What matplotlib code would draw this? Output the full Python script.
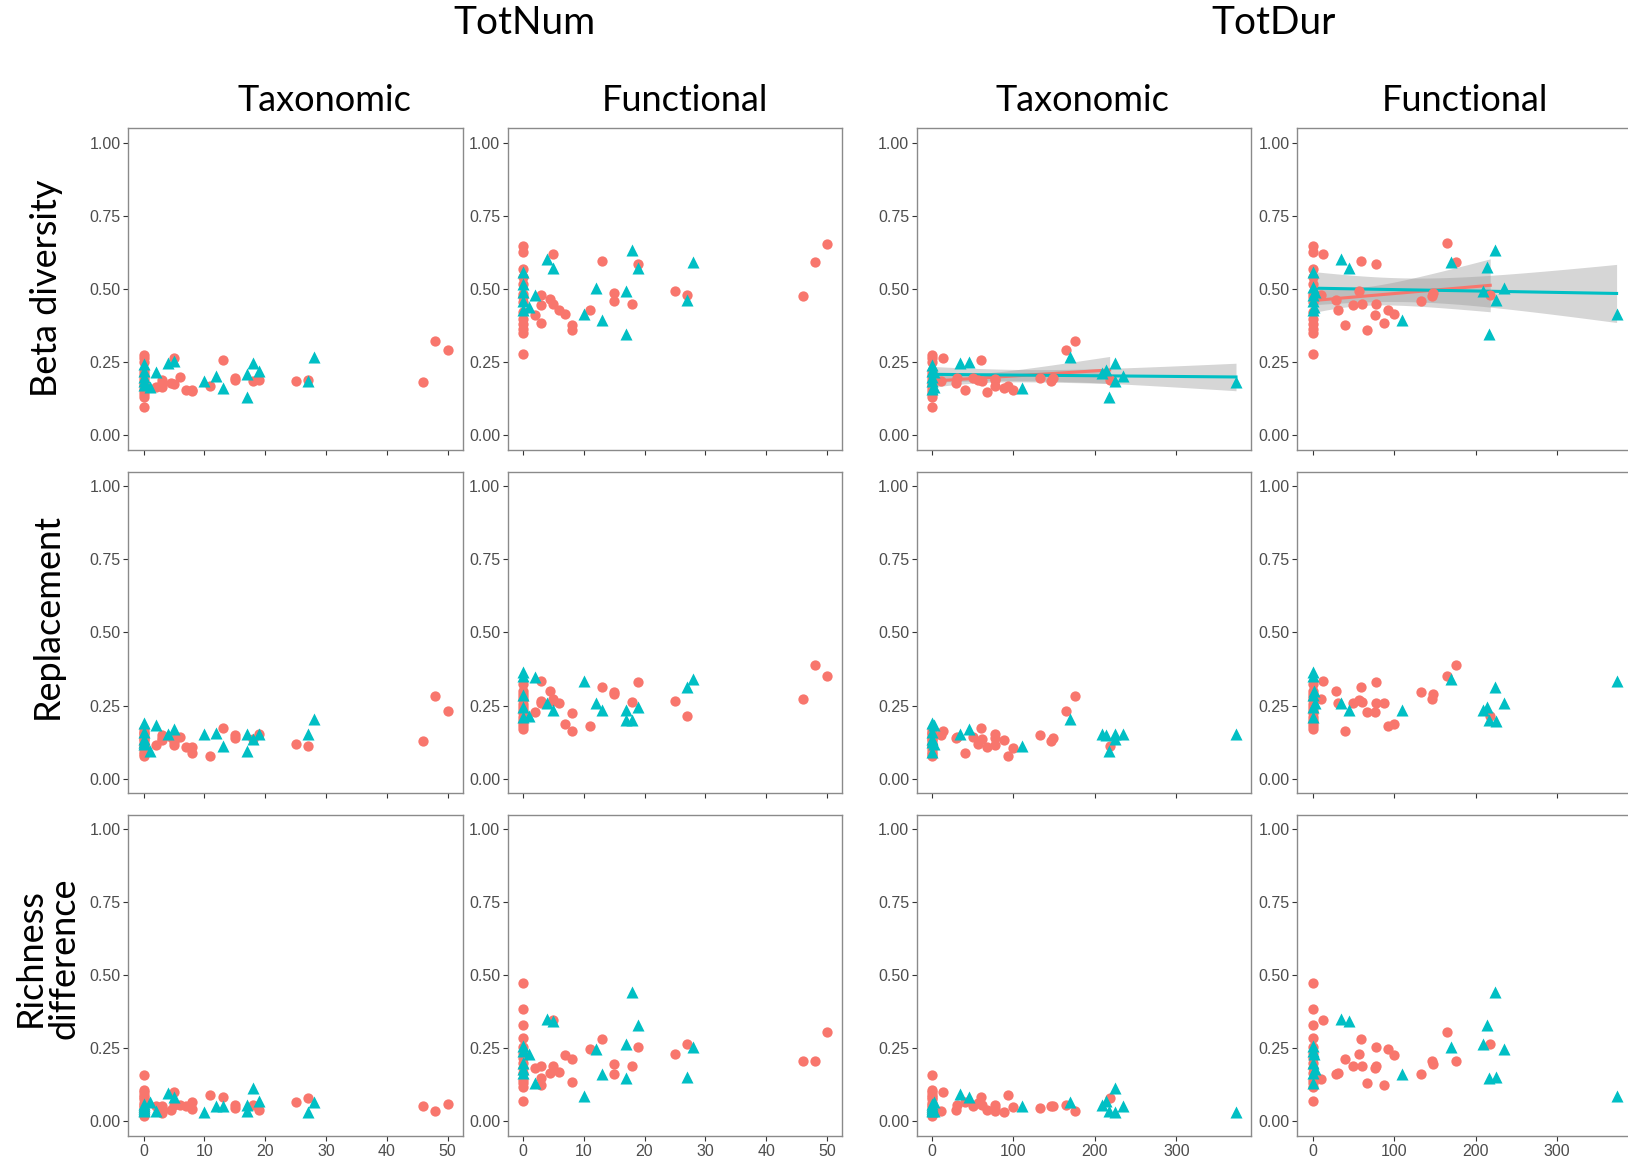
import numpy as np
import matplotlib
matplotlib.use("Agg")
import matplotlib.pyplot as plt

plt.rcParams["font.family"] = ["Liberation Sans", "DejaVu Sans"]

# x values: number / duration, one entry per observation
red_num = [0]*14 + [2, 3, 3, 3, 4.5, 5, 5, 6, 7, 8, 8, 11, 13, 15, 15, 18, 19, 25, 27, 46, 48, 50]
red_dur = [0]*14 + [11, 13, 29, 31, 40, 50, 57, 60, 61, 67, 77, 78, 78, 88, 93, 100, 133, 146, 148, 165, 176, 218]
teal_num = [0, 0, 0, 0, 0, 1, 2, 4, 5, 10, 12, 13, 17, 17, 18, 19, 27, 28]
teal_dur = [0, 0, 0, 0, 0, 2, 3, 35, 45, 110, 170, 209, 214, 217, 224, 225, 235, 373]

# red y values, TotNum column
red_num_beta_tax = [0.275, 0.265, 0.25, 0.22, 0.21, 0.20, 0.19, 0.18, 0.17, 0.16, 0.15, 0.14, 0.13, 0.095,
                    0.164, 0.164, 0.19, 0.18, 0.179, 0.265, 0.174, 0.199, 0.155, 0.150, 0.155, 0.168, 0.256,
                    0.195, 0.19, 0.187, 0.19, 0.187, 0.19, 0.183, 0.321, 0.29]
red_num_beta_fun = [0.646, 0.627, 0.57, 0.54, 0.518, 0.484, 0.473, 0.455, 0.421, 0.398, 0.381, 0.364, 0.349, 0.279,
                    0.41, 0.48, 0.446, 0.384, 0.465, 0.621, 0.45, 0.429, 0.413, 0.376, 0.361, 0.427, 0.596,
                    0.487, 0.459, 0.45, 0.587, 0.495, 0.479, 0.476, 0.591, 0.655]
red_num_repl_tax = [0.17, 0.16, 0.155, 0.15, 0.14, 0.135, 0.13, 0.12, 0.115, 0.11, 0.10, 0.09, 0.085, 0.078,
                    0.116, 0.148, 0.131, 0.14, 0.143, 0.114, 0.125, 0.143, 0.108, 0.108, 0.089, 0.078, 0.174,
                    0.148, 0.14, 0.137, 0.151, 0.12, 0.111, 0.129, 0.283, 0.232]
red_num_repl_fun = [0.322, 0.30, 0.291, 0.28, 0.268, 0.255, 0.245, 0.235, 0.223, 0.21, 0.2, 0.19, 0.18, 0.171,
                    0.228, 0.333, 0.259, 0.265, 0.299, 0.272, 0.265, 0.259, 0.186, 0.226, 0.163, 0.18, 0.314,
                    0.297, 0.288, 0.263, 0.331, 0.267, 0.213, 0.271, 0.387, 0.35]
red_num_rich_tax = [0.157, 0.108, 0.10, 0.09, 0.085, 0.075, 0.063, 0.055, 0.05, 0.04, 0.035, 0.03, 0.025, 0.017,
                    0.051, 0.051, 0.028, 0.04, 0.04, 0.102, 0.055, 0.055, 0.051, 0.065, 0.042, 0.089, 0.084,
                    0.055, 0.045, 0.055, 0.04, 0.068, 0.08, 0.053, 0.036, 0.058]
red_num_rich_fun = [0.472, 0.385, 0.33, 0.286, 0.256, 0.233, 0.216, 0.2, 0.182, 0.165, 0.142, 0.13, 0.119, 0.069,
                    0.182, 0.19, 0.148, 0.123, 0.165, 0.347, 0.191, 0.168, 0.227, 0.213, 0.134, 0.247, 0.281,
                    0.197, 0.162, 0.188, 0.256, 0.23, 0.264, 0.205, 0.205, 0.305]

# red y values, TotDur column
red_dur_beta_tax = red_num_beta_tax[:14] + [0.185, 0.264, 0.179, 0.196, 0.155, 0.195, 0.19, 0.256, 0.187, 0.147, 0.168,
                                            0.193, 0.19, 0.161, 0.168, 0.155, 0.196, 0.184, 0.195, 0.29, 0.321, 0.19]
red_dur_beta_fun = red_num_beta_fun[:14] + [0.478, 0.621, 0.463, 0.429, 0.377, 0.446, 0.495, 0.596, 0.45, 0.361, 0.41,
                                            0.45, 0.586, 0.384, 0.427, 0.413, 0.459, 0.476, 0.486, 0.658, 0.591, 0.478]
red_dur_repl_tax = red_num_repl_tax[:14] + [0.148, 0.162, 0.14, 0.143, 0.089, 0.143, 0.118, 0.174, 0.137, 0.108, 0.116,
                                            0.152, 0.14, 0.131, 0.078, 0.106, 0.148, 0.129, 0.14, 0.232, 0.283, 0.112]
red_dur_repl_fun = red_num_repl_fun[:14] + [0.274, 0.333, 0.299, 0.259, 0.163, 0.257, 0.268, 0.314, 0.263, 0.227, 0.228,
                                            0.331, 0.257, 0.26, 0.18, 0.186, 0.297, 0.271, 0.288, 0.352, 0.387, 0.213]
red_dur_rich_tax = red_num_rich_tax[:14] + [0.036, 0.102, 0.04, 0.055, 0.066, 0.051, 0.063, 0.085, 0.055, 0.04, 0.037,
                                            0.057, 0.045, 0.031, 0.089, 0.049, 0.045, 0.051, 0.053, 0.055, 0.036, 0.08]
red_dur_rich_fun = red_num_rich_fun[:14] + [0.145, 0.347, 0.162, 0.167, 0.213, 0.19, 0.23, 0.281, 0.188, 0.133, 0.182,
                                            0.256, 0.191, 0.123, 0.247, 0.227, 0.162, 0.205, 0.197, 0.305, 0.205, 0.264]

# teal y values, TotNum column
teal_num_beta_tax = [0.244, 0.22, 0.199, 0.185, 0.17, 0.164, 0.216, 0.247, 0.253, 0.184, 0.202, 0.162, 0.21, 0.132, 0.247, 0.219, 0.184, 0.267]
teal_num_beta_fun = [0.558, 0.518, 0.49, 0.46, 0.427, 0.438, 0.478, 0.604, 0.572, 0.416, 0.503, 0.393, 0.493, 0.347, 0.635, 0.573, 0.461, 0.592]
teal_num_repl_tax = [0.191, 0.16, 0.137, 0.126, 0.12, 0.094, 0.183, 0.154, 0.171, 0.152, 0.156, 0.112, 0.154, 0.095, 0.137, 0.151, 0.154, 0.204]
teal_num_repl_fun = [0.365, 0.35, 0.285, 0.245, 0.211, 0.213, 0.348, 0.257, 0.236, 0.333, 0.259, 0.236, 0.234, 0.202, 0.2, 0.245, 0.314, 0.341]
teal_num_rich_tax = [0.06, 0.051, 0.045, 0.04, 0.036, 0.068, 0.037, 0.097, 0.082, 0.031, 0.051, 0.051, 0.057, 0.037, 0.114, 0.07, 0.031, 0.066]
teal_num_rich_fun = [0.258, 0.24, 0.199, 0.18, 0.165, 0.23, 0.133, 0.351, 0.343, 0.088, 0.248, 0.162, 0.265, 0.15, 0.441, 0.33, 0.151, 0.253]

# teal y values, TotDur column
teal_dur_beta_tax = [0.241, 0.22, 0.2, 0.185, 0.159, 0.164, 0.216, 0.247, 0.251, 0.162, 0.267, 0.212, 0.224, 0.132, 0.248, 0.184, 0.204, 0.182]
teal_dur_beta_fun = [0.56, 0.507, 0.478, 0.46, 0.427, 0.44, 0.49, 0.604, 0.572, 0.393, 0.594, 0.493, 0.575, 0.347, 0.635, 0.461, 0.503, 0.416]
teal_dur_repl_tax = [0.191, 0.16, 0.137, 0.126, 0.091, 0.12, 0.183, 0.154, 0.171, 0.112, 0.203, 0.154, 0.148, 0.095, 0.154, 0.137, 0.154, 0.154]
teal_dur_repl_fun = [0.365, 0.35, 0.285, 0.245, 0.211, 0.3, 0.26, 0.257, 0.236, 0.234, 0.341, 0.234, 0.245, 0.202, 0.312, 0.197, 0.257, 0.333]
teal_dur_rich_tax = [0.06, 0.051, 0.045, 0.036, 0.04, 0.068, 0.037, 0.094, 0.082, 0.051, 0.066, 0.055, 0.07, 0.037, 0.114, 0.031, 0.051, 0.031]
teal_dur_rich_fun = [0.258, 0.24, 0.199, 0.165, 0.133, 0.23, 0.18, 0.351, 0.343, 0.162, 0.253, 0.265, 0.33, 0.15, 0.441, 0.151, 0.248, 0.088]

col_titles = ["Taxonomic", "Functional", "Taxonomic", "Functional"]
group_titles = ["TotNum", "TotDur"]
row_titles = ["Beta diversity", "Replacement", "Richness\ndifference"]
yticks = [0.0, 0.25, 0.5, 0.75, 1.0]
num_ticks = [0, 10, 20, 30, 40, 50]
dur_ticks = [0, 100, 200, 300]

RED = "#F8766D"
TEAL = "#00BFC4"
W, H = 1628, 1162

fig = plt.figure(figsize=(W / 100, H / 100), dpi=100)
fig.patch.set_facecolor("white")

lefts = [128.3, 507.7, 916.7, 1297.3]
tops = [128.3, 471.7, 814.5]
pw, ph = 334.5, 321.5

red_y = [[red_num_beta_tax, red_num_beta_fun, red_dur_beta_tax, red_dur_beta_fun],
         [red_num_repl_tax, red_num_repl_fun, red_dur_repl_tax, red_dur_repl_fun],
         [red_num_rich_tax, red_num_rich_fun, red_dur_rich_tax, red_dur_rich_fun]]
teal_y = [[teal_num_beta_tax, teal_num_beta_fun, teal_dur_beta_tax, teal_dur_beta_fun],
          [teal_num_repl_tax, teal_num_repl_fun, teal_dur_repl_tax, teal_dur_repl_fun],
          [teal_num_rich_tax, teal_num_rich_fun, teal_dur_rich_tax, teal_dur_rich_fun]]


def smooth(ax, x, y, color):
    # lm fit with 95% confidence band, like geom_smooth(method="lm")
    x = np.asarray(x, float)
    y = np.asarray(y, float)
    n = len(x)
    b, a = np.polyfit(x, y, 1)
    res = y - (a + b * x)
    s = np.sqrt(np.sum(res ** 2) / (n - 2))
    sxx = np.sum((x - x.mean()) ** 2)
    t = 1.96 + 2.4 / (n - 2)
    xs = np.linspace(x.min(), x.max(), 80)
    fit = a + b * xs
    se = s * np.sqrt(1 / n + (xs - x.mean()) ** 2 / sxx)
    ax.fill_between(xs, fit - t * se, fit + t * se, color="#999999", alpha=0.4, lw=0, zorder=2)
    ax.plot(xs, fit, color=color, lw=2.2, zorder=3)


for r in range(3):
    for c in range(4):
        l = lefts[c]
        t = tops[r]
        ax = fig.add_axes([l / W, 1 - (t + ph) / H, pw / W, ph / H])
        dur = c >= 2
        rx = red_dur if dur else red_num
        tx = teal_dur if dur else teal_num
        if r == 0 and dur:
            smooth(ax, rx, red_y[r][c], RED)
            smooth(ax, tx, teal_y[r][c], TEAL)
        ax.scatter(rx, red_y[r][c], s=55, color=RED, marker="o", lw=0, zorder=4)
        ax.scatter(tx, teal_y[r][c], s=75, color=TEAL, marker="^", lw=0, zorder=4)
        ax.set_ylim(-0.05, 1.05)
        if dur:
            ax.set_xlim(-18.65, 391.65)
            ax.set_xticks(dur_ticks)
        else:
            ax.set_xlim(-2.5, 52.5)
            ax.set_xticks(num_ticks)
        ax.set_yticks(yticks)
        ax.set_yticklabels(["0.00", "0.25", "0.50", "0.75", "1.00"])
        if r < 2:
            ax.set_xticklabels([])
        for sp in ax.spines.values():
            sp.set_color("#8a8a8a")
            sp.set_linewidth(1.0)
        ax.tick_params(length=3.5, width=0.8, color="#333333", labelcolor="#4D4D4D",
                       labelsize=11.5, pad=2)

title_font = ["Lato", "DejaVu Sans"]
for c in range(4):
    xc = [324.3, 684.7, 1082.4, 1464.5][c]
    fig.text(xc / W, 1 - 100.5 / H, col_titles[c], ha="center", va="center",
             fontsize=26, family=title_font)
for i, xc in enumerate([524.3, 1274.0]):
    fig.text(xc / W, 1 - 23 / H, group_titles[i], ha="center", va="center",
             fontsize=28, family=title_font)
for r, yc in enumerate([288, 616, 958]):
    fig.text(47 / W, 1 - yc / H, row_titles[r], ha="center", va="center", rotation=90,
             fontsize=26, family=title_font, linespacing=1.0)

fig.savefig("out.png", dpi=100)
